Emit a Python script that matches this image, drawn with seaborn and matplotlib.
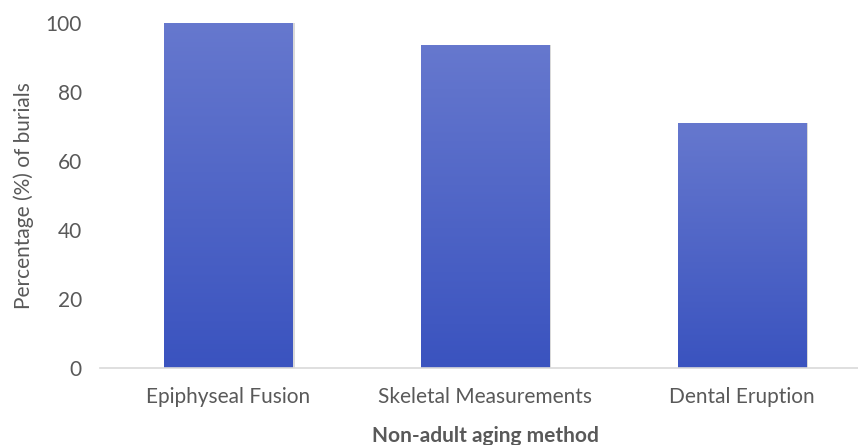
import numpy as np
import pandas as pd
import matplotlib
matplotlib.use("Agg")
import matplotlib.pyplot as plt
from matplotlib.colors import LinearSegmentedColormap
import seaborn as sns

methods = ["Epiphyseal Fusion", "Skeletal Measurements", "Dental Eruption"]
percentages = [100, 93.6, 71.0]

sns.set_theme(style="white")
plt.rcParams["font.family"] = ["Lato", "DejaVu Sans"]

df = pd.DataFrame({"method": methods, "pct": percentages})

fig = plt.figure(figsize=(8.58, 4.45), dpi=100)
ax = fig.add_axes([100 / 858, 77 / 445, 770 / 858, 345 / 445])

sns.barplot(data=df, x="method", y="pct", color="#4a62c8", width=0.5,
            linewidth=0, ax=ax)

# gradient fill, lighter at top
cmap = LinearSegmentedColormap.from_list("bar", ["#3a53bf", "#6678ce"])
grad = np.linspace(0, 1, 256).reshape(-1, 1)
for p in list(ax.patches):
    x0, y0 = p.get_x(), p.get_y()
    w, h = p.get_width(), p.get_height()
    # soft shadow
    ax.add_patch(plt.Rectangle((x0 + 0.008, y0), w, h, color="#000000",
                               alpha=0.15, zorder=1, lw=0, clip_on=False))
    im = ax.imshow(grad, extent=[x0, x0 + w, y0, y0 + h], origin="lower",
                   cmap=cmap, aspect="auto", zorder=2, vmin=0, vmax=1)
    im.set_clip_path(p)
    p.set_zorder(2)

ax.set_xlim(-0.5, 2.5)
ax.set_ylim(0, 100)
ax.set_yticks([0, 20, 40, 60, 80, 100])
sns.despine(ax=ax, left=True)
ax.spines["bottom"].set_color("#d9d9d9")
ax.spines["bottom"].set_linewidth(1.2)
ax.tick_params(axis="both", length=0, labelsize=15, labelcolor="#595959")
ax.tick_params(axis="y", pad=13)
ax.tick_params(axis="x", pad=14)
ax.set_ylabel("Percentage (%) of burials", fontsize=15, color="#595959", labelpad=8)
ax.set_xlabel("Non-adult aging method", fontsize=15, color="#595959",
              fontweight="bold", labelpad=13)

fig.savefig("out.png", dpi=100)
